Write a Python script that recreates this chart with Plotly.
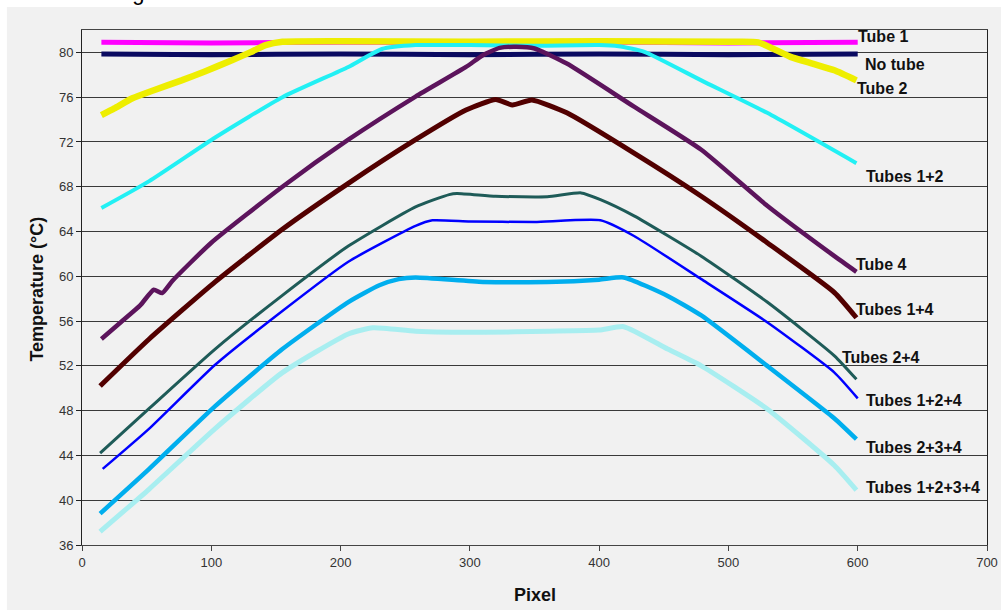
import plotly.graph_objects as go

# ---------------- data ----------------
tube1_x = [15, 100, 200, 300, 400, 500, 600]
tube1_y = [80.9, 80.85, 80.9, 80.85, 80.9, 80.85, 80.9]

notube_x = [15, 100, 200, 300, 400, 500, 600]
notube_y = [79.85, 79.8, 79.85, 79.8, 79.85, 79.8, 79.85]

tube2_x = [15, 25, 39, 55, 77, 95, 116, 130, 142, 155, 200, 300, 400, 500, 523, 548, 565, 582, 599]
tube2_y = [74.4, 75.0, 75.9, 76.6, 77.5, 78.3, 79.3, 80.0, 80.65, 80.95, 81.0, 80.95, 81.0, 80.95, 80.9, 79.6, 79.0, 78.4, 77.5]

t12_x = [15, 52, 103, 155, 206, 232, 258, 300, 350, 400, 415, 435, 479, 530, 599]
t12_y = [66.1, 68.5, 72.4, 76.0, 78.7, 80.3, 80.65, 80.65, 80.6, 80.65, 80.55, 80.05, 77.5, 74.6, 70.1]

tube4_x = [15, 30, 45, 55.5, 62, 70, 100, 155, 206, 258, 297, 310, 323, 336, 350, 375, 427, 479, 530, 582, 599]
tube4_y = [54.4, 55.9, 57.4, 58.8, 58.5, 59.6, 63.0, 68.0, 72.2, 76.05, 78.7, 79.75, 80.4, 80.5, 80.35, 79.0, 75.15, 71.3, 66.3, 61.8, 60.4]

t14_x = [14, 52, 103, 155, 206, 258, 297, 320, 333, 348, 375, 427, 479, 530, 582, 599]
t14_y = [50.2, 54.4, 59.5, 64.2, 68.3, 72.2, 74.85, 75.8, 75.3, 75.75, 74.6, 71.0, 67.15, 63.0, 58.55, 56.3]

t24_x = [14, 52, 103, 155, 206, 258, 284, 290, 320, 360, 386, 401, 427, 479, 530, 582, 599]
t24_y = [44.2, 48.2, 53.5, 58.3, 62.7, 66.2, 67.3, 67.4, 67.15, 67.1, 67.45, 66.85, 65.4, 61.8, 57.7, 52.9, 50.8]

t124_x = [16, 52, 103, 155, 206, 258, 271, 300, 350, 401, 427, 479, 530, 582, 600]
t124_y = [42.8, 46.4, 52.1, 56.9, 61.3, 64.5, 65.0, 64.9, 64.85, 65.0, 63.6, 59.75, 55.9, 51.4, 49.1]

t234_x = [14, 52, 103, 155, 206, 230, 245, 258, 310, 360, 400, 419, 453, 479, 530, 582, 599]
t234_y = [38.8, 42.8, 48.4, 53.5, 57.7, 59.2, 59.75, 59.9, 59.5, 59.5, 59.7, 59.9, 58.25, 56.5, 52.0, 47.3, 45.45]

t1234_x = [14, 52, 103, 155, 206, 225, 258, 310, 360, 400, 419, 453, 479, 530, 582, 599]
t1234_y = [37.2, 41.0, 46.4, 51.4, 54.85, 55.4, 55.1, 55.0, 55.1, 55.2, 55.5, 53.5, 52.0, 48.15, 43.1, 40.9]

series_names = ["Tube 1", "No tube", "Tube 2", "Tubes 1+2", "Tube 4", "Tubes 1+4",
                "Tubes 2+4", "Tubes 1+2+4", "Tubes 2+3+4", "Tubes 1+2+3+4"]
series_x = [tube1_x, notube_x, tube2_x, t12_x, tube4_x, t14_x, t24_x, t124_x, t234_x, t1234_x]
series_y = [tube1_y, notube_y, tube2_y, t12_y, tube4_y, t14_y, t24_y, t124_y, t234_y, t1234_y]

# label anchor positions (data coords, left edge of text)
label_x = [599, 604, 598, 605, 597, 597, 586, 605, 605, 605]
label_y = [81.4, 78.95, 76.8, 68.9, 61.05, 57.0, 52.75, 48.95, 44.75, 41.1]

y_ticks = [36, 40, 44, 48, 52, 56, 60, 64, 68, 72, 76, 80]
x_ticks = [0, 100, 200, 300, 400, 500, 600, 700]

# ---------------- styles ----------------
colors = ["#ff00ff", "#0a0a60", "#eeee00", "#22f0f4", "#5c145c", "#520000",
          "#1e5b58", "#0000ff", "#00aeee", "#a8eef0"]
widths = [5, 5, 6.5, 4, 4.5, 5, 3, 2.5, 4.5, 5]

FONT = "Arial, Liberation Sans, sans-serif"

fig = go.Figure()
for name, xs, ys, c, w in zip(series_names, series_x, series_y, colors, widths):
    fig.add_trace(go.Scatter(x=xs, y=ys, mode="lines", name=name,
                             line=dict(color=c, width=w, shape="spline", smoothing=0.5),
                             showlegend=False, hoverinfo="skip"))

annotations = []
for name, lx, ly in zip(series_names, label_x, label_y):
    annotations.append(dict(x=lx, y=ly, xref="x", yref="y", text="<b>%s</b>" % name,
                            showarrow=False, xanchor="left", yanchor="middle",
                            font=dict(family=FONT, size=16, color="#111111")))

annotations.append(dict(x=-0.0497, y=0.496, xref="paper", yref="paper",
                        text="<b>Temperature (°C)</b>", textangle=-90, showarrow=False,
                        xanchor="center", yanchor="middle",
                        font=dict(family=FONT, size=18, color="#111111")))
annotations.append(dict(x=0.5, y=-0.098, xref="paper", yref="paper",
                        text="<b>Pixel</b>", showarrow=False,
                        xanchor="center", yanchor="middle",
                        font=dict(family=FONT, size=18, color="#111111")))
annotations.append(dict(x=-0.094, y=1.072, xref="paper", yref="paper",
                        text="as shown in fig. 2.", showarrow=False,
                        xanchor="left", yanchor="middle",
                        font=dict(family=FONT, size=22, color="#000000")))

shapes = [dict(type="rect", xref="paper", yref="paper",
               x0=-0.083, x1=1.05, y0=-0.14, y1=1.0446,
               fillcolor="#f1f1f1", line=dict(width=0), layer="below")]

fig.update_layout(
    width=1001, height=610,
    margin=dict(l=82, r=14, t=30, b=65),
    paper_bgcolor="#ffffff",
    plot_bgcolor="rgba(0,0,0,0)",
    annotations=annotations,
    shapes=shapes,
    xaxis=dict(range=[0, 700], tickvals=x_ticks, showgrid=False, zeroline=False,
               automargin=False, ticklabeloverflow="allow",
               showline=True, linecolor="#444444", linewidth=1, mirror=True,
               ticks="outside", ticklen=5, tickcolor="#444444",
               tickfont=dict(family=FONT, size=13, color="#333333")),
    yaxis=dict(range=[36, 82], tickvals=y_ticks, showgrid=True, gridcolor="#3a3a3a",
               gridwidth=1, zeroline=False, automargin=False,
               showline=True, linecolor="#222222", linewidth=1, mirror=True,
               ticks="outside", ticklen=5, tickcolor="#222222",
               tickfont=dict(family=FONT, size=13, color="#333333")),
)

fig.write_html("out.html")
